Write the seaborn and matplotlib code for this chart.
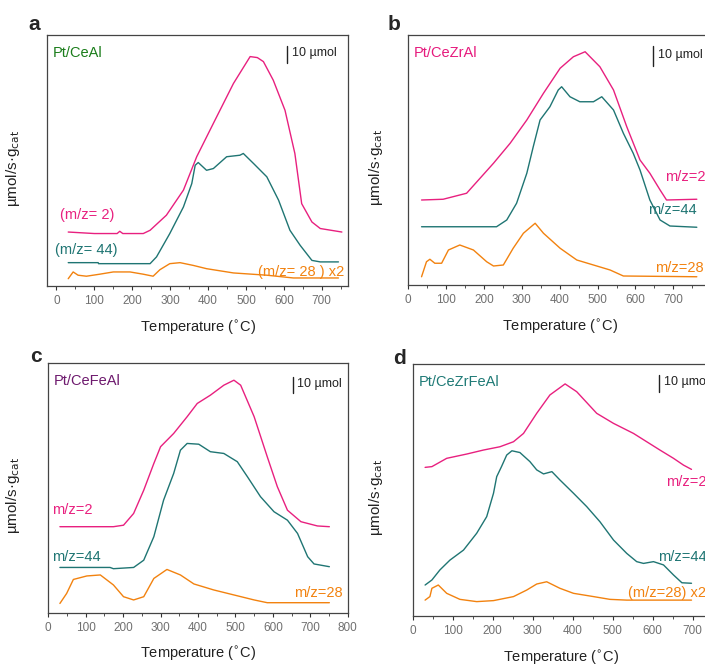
import numpy as np
import pandas as pd
import seaborn as sns
import matplotlib.pyplot as plt
from matplotlib.ticker import MultipleLocator

# Signals (y in % of panel height, arbitrary offsets)
# Panel a: Pt/CeAl
a_h2_t = [31, 100, 160, 167, 175, 229, 247, 290, 335, 370, 414, 467, 511, 530, 546, 572, 603, 629, 647, 674, 696, 753]
a_h2_v = [21.5, 20.9, 20.9, 21.8, 20.9, 20.9, 22.2, 28.2, 38.2, 51.5, 64.8, 80.7, 91.4, 91.0, 89.4, 82.0, 70.0, 52.8, 32.8, 25.5, 22.9, 21.5]
a_co2_t = [31, 110, 111, 247, 264, 299, 335, 357, 366, 374, 396, 414, 449, 484, 493, 520, 555, 586, 616, 643, 674, 696, 744]
a_co2_v = [9.3, 9.3, 8.9, 8.9, 11.6, 20.9, 31.5, 40.8, 48.1, 49.2, 46.1, 46.8, 51.5, 52.1, 52.8, 48.8, 43.5, 34.2, 22.2, 16.2, 10.2, 9.6, 9.6]
a_co_t = [31, 44, 57, 79, 114, 150, 194, 229, 255, 273, 299, 326, 361, 396, 467, 555, 625, 744]
a_co_v = [2.9, 5.6, 4.3, 3.9, 4.7, 5.6, 5.6, 4.7, 3.9, 6.5, 8.9, 9.3, 8.2, 6.9, 5.2, 4.3, 3.2, 3.2]

# Panel b: Pt/CeZrAl
b_h2_t = [35, 92, 154, 225, 269, 313, 357, 401, 436, 467, 506, 542, 577, 612, 638, 665, 682, 762]
b_h2_v = [34.0, 34.3, 36.7, 48.7, 56.7, 66.0, 76.7, 86.7, 91.3, 93.3, 87.3, 78.0, 63.3, 50.0, 44.7, 38.0, 34.0, 34.3]
b_co2_t = [35, 233, 260, 286, 313, 330, 348, 374, 396, 405, 427, 453, 489, 511, 542, 568, 594, 612, 638, 665, 691, 762]
b_co2_v = [23.3, 23.3, 26.0, 32.7, 44.7, 55.3, 66.0, 71.3, 78.0, 79.3, 75.3, 73.3, 73.3, 75.3, 70.0, 60.7, 52.7, 46.0, 34.0, 26.0, 23.6, 23.1]
b_co_t = [35, 48, 57, 70, 88, 106, 136, 172, 207, 225, 251, 277, 304, 335, 357, 401, 445, 489, 533, 568, 762]
b_co_v = [3.3, 9.3, 10.3, 8.7, 8.7, 14.0, 16.0, 14.0, 9.3, 7.6, 8.0, 14.7, 20.7, 24.7, 20.7, 14.7, 10.0, 8.0, 6.0, 3.6, 3.3]

# Panel c: Pt/CeFeAl
c_h2_t = [31, 174, 201, 228, 255, 282, 300, 335, 371, 398, 433, 469, 496, 514, 550, 585, 612, 639, 675, 719, 751]
c_h2_v = [34.4, 34.4, 35.0, 39.7, 49.0, 59.7, 66.4, 71.7, 78.4, 83.7, 87.0, 91.0, 93.0, 91.0, 78.4, 62.4, 50.4, 41.0, 36.4, 34.7, 34.4]
c_co2_t = [31, 165, 174, 228, 255, 282, 308, 335, 353, 371, 402, 433, 469, 505, 532, 567, 603, 639, 666, 693, 710, 751]
c_co2_v = [18.1, 18.1, 17.6, 18.1, 21.0, 30.4, 45.0, 55.7, 65.0, 67.7, 67.4, 64.4, 63.7, 60.4, 54.4, 46.4, 40.4, 37.0, 31.7, 22.4, 19.5, 18.4]
c_co_t = [31, 49, 67, 103, 139, 174, 201, 228, 255, 282, 317, 353, 389, 442, 496, 550, 585, 751]
c_co_v = [3.7, 7.7, 13.3, 14.7, 15.1, 11.1, 6.4, 5.1, 6.4, 13.7, 17.3, 15.1, 11.5, 9.1, 7.1, 5.1, 4.0, 4.0]

# Panel d: Pt/CeZrFeAl
d_h2_t = [31, 48, 85, 135, 177, 218, 252, 277, 310, 343, 381, 410, 460, 502, 552, 585, 618, 652, 677, 697]
d_h2_v = [59.0, 59.3, 62.6, 64.3, 65.9, 67.2, 69.2, 72.5, 80.5, 87.8, 92.2, 89.1, 80.5, 76.5, 72.5, 69.2, 65.9, 62.6, 59.9, 58.2]
d_co2_t = [31, 48, 68, 93, 127, 160, 185, 202, 210, 222, 235, 248, 268, 293, 310, 327, 348, 368, 402, 435, 468, 502, 535, 560, 577, 602, 627, 652, 673, 697]
d_co2_v = [12.2, 14.2, 18.2, 22.1, 26.1, 32.8, 39.4, 48.7, 55.3, 59.3, 63.9, 65.6, 64.9, 61.3, 58.0, 56.4, 57.3, 54.0, 48.7, 43.4, 37.4, 30.1, 24.8, 21.5, 20.8, 21.5, 20.2, 16.2, 13.1, 12.9]
d_co_t = [31, 43, 48, 64, 85, 118, 160, 202, 252, 285, 310, 335, 368, 402, 452, 493, 535, 697]
d_co_v = [6.2, 7.6, 10.9, 12.2, 8.9, 6.5, 5.6, 6.0, 7.6, 10.2, 12.6, 13.5, 10.9, 8.9, 7.6, 6.5, 6.2, 6.2]

catalysts = ["Pt/CeAl", "Pt/CeZrAl", "Pt/CeFeAl", "Pt/CeZrFeAl"]
letters = ["a", "b", "c", "d"]
h2_labels = ["(m/z= 2)", "m/z=2", "m/z=2", "m/z=2"]
co2_labels = ["(m/z= 44)", "m/z=44", "m/z=44", "m/z=44"]
co_labels = ["(m/z= 28 ) x2", "m/z=28", "m/z=28", "(m/z=28) x2"]

series = [
    [(a_h2_t, a_h2_v), (a_co2_t, a_co2_v), (a_co_t, a_co_v)],
    [(b_h2_t, b_h2_v), (b_co2_t, b_co2_v), (b_co_t, b_co_v)],
    [(c_h2_t, c_h2_v), (c_co2_t, c_co2_v), (c_co_t, c_co_v)],
    [(d_h2_t, d_h2_v), (d_co2_t, d_co2_v), (d_co_t, d_co_v)],
]

PINK = "#e8207f"
TEAL = "#1f7573"
ORANGE = "#f2820f"
line_colors = [PINK, TEAL, ORANGE]
title_colors = ["#1b7d1b", "#e61a7d", "#6e1a6e", "#1f7a76"]

sns.set_style("ticks")
plt.rcParams["font.family"] = ["Liberation Sans", "DejaVu Sans"]

W, H = 705, 666
fig = plt.figure(figsize=(W / 100, H / 100), dpi=100)


def box(l, t, r, b):
    return [l / W, 1 - b / H, (r - l) / W, (b - t) / H]


# axes boxes in pixels (left, top, right, bottom) and x ranges
boxes = [box(47, 35, 348.3, 286), box(408.3, 35, 711.2, 285),
         box(48.3, 362.7, 347.7, 612.7), box(412.7, 364.3, 732.7, 615.7)]
xlims = [(-25, 770), (0, 800), (0, 800), (0, 800)]
xmax_tick = [700, 700, 800, 700]

# label positions in data coords: (T, v) for each series label
label_pos = [
    [(9, 28.3), (-4.5, 14.3), (532, 5.6)],
    [(678, 43.2), (633, 30.0), (651, 6.8)],
    [(10, 41.0), (10, 22.3), (656, 7.9)],
    [(633, 53.2), (613, 23.3), (538, 9.0)],
]
scalebar = [(0.797, 0.888, 0.956), (0.808, 0.876, 0.956),
            (0.817, 0.879, 0.943), (0.770, 0.890, 0.957)]
ylabel_x = [-0.083, -0.076, -0.087, -0.087]
xlabel_x = [0.5, 0.5, 0.5, 0.463]
letter_px = [(28, 25), (388, 25), (30, 356), (393, 358)]

for i in range(4):
    ax = fig.add_axes(boxes[i])
    texts = [h2_labels[i], co2_labels[i], co_labels[i]]
    for j, (t, v) in enumerate(series[i]):
        df = pd.DataFrame({"T": t, "v": v})
        sns.lineplot(data=df, x="T", y="v", ax=ax, color=line_colors[j],
                     linewidth=1.0, estimator=None)
        lx, ly = label_pos[i][j]
        ax.text(lx, ly, texts[j], color=line_colors[j], fontsize=10.5,
                ha="left", va="center")

    ax.set_xlim(*xlims[i])
    ax.set_ylim(0, 100)
    ax.set_xticks(np.arange(0, xmax_tick[i] + 1, 100))
    ax.xaxis.set_minor_locator(MultipleLocator(50))
    ax.set_yticks([])
    ax.tick_params(axis="x", which="major", direction="out", length=3,
                   width=0.8, labelsize=8.5, labelcolor="#707070", color="#333333")
    ax.tick_params(axis="x", which="minor", direction="out", length=2,
                   width=0.6, color="#333333")
    for sp in ax.spines.values():
        sp.set_visible(True)
        sp.set_color("#444444")
        sp.set_linewidth(0.9)

    ax.set_xlabel("Temperature ($^{\\circ}$C)", fontsize=10.5, color="#222222")
    ax.xaxis.set_label_coords(xlabel_x[i], -0.13)
    ax.set_ylabel("µmol/s·g$_{\\rm cat}$", fontsize=11, color="#222222")
    ax.yaxis.set_label_coords(ylabel_x[i], 0.47)

    ax.text(0.018, 0.928, catalysts[i], transform=ax.transAxes,
            color=title_colors[i], fontsize=10.5, ha="left", va="center")
    sx, y0, y1 = scalebar[i]
    ax.plot([sx, sx], [y0, y1], transform=ax.transAxes, color="#222222",
            linewidth=1.0)
    ax.text(sx + 0.015, (y0 + y1) / 2 + 0.005, "10 µmol", transform=ax.transAxes,
            fontsize=9, color="#222222", ha="left", va="center")

    lx, ly = letter_px[i]
    fig.text(lx / W, 1 - ly / H, letters[i], fontsize=15, fontweight="bold",
             ha="left", va="center")

fig.savefig("out.png", dpi=100)
